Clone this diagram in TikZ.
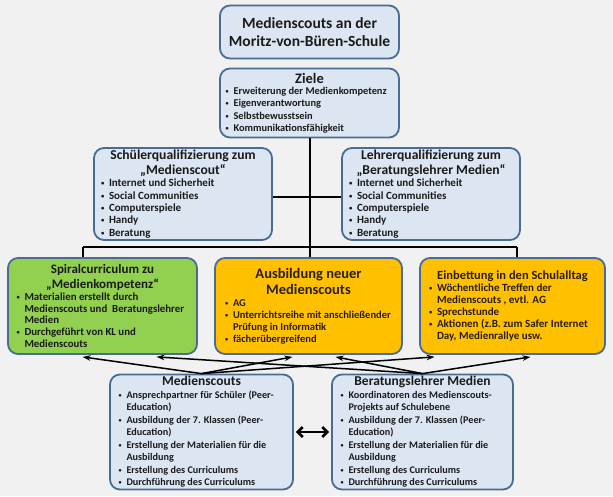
\documentclass[tikz,border=0pt]{standalone}
\usepackage{fontspec}
\setmainfont{Carlito}
\usetikzlibrary{arrows.meta,calc}
\definecolor{bgc}{HTML}{F1F1F1}
\definecolor{bluef}{HTML}{DCE6F2}
\definecolor{edgec}{HTML}{4A6B93}
\definecolor{greenf}{HTML}{92D050}
\definecolor{orangef}{HTML}{FFC000}
\definecolor{txt}{HTML}{1A1A1A}
\definecolor{txto}{HTML}{2A1E05}
\newcommand\bt[3][12.5]{{\centering\fontsize{#1}{#2}\selectfont #3\par}}
\newcommand\itmsize{\fontsize{10}{12.3}}
\newcommand\itm[1]{{\itmsize\selectfont\hangindent=8pt\hangafter=1\noindent\makebox[8pt][l]{\raisebox{1pt}{\scalebox{0.6}{\textbullet}}}#1\par}}
\newcommand\bx[2]{\begin{minipage}{#1}#2\end{minipage}}
\tikzset{
  box/.style={draw=edgec, line width=1.8pt, rounded corners=10pt, inner sep=0pt, text=txt, font=\bfseries},
  bluebox/.style={box, fill=bluef},
  greenbox/.style={box, fill=greenf},
  orangebox/.style={box, fill=orangef, text=txto},
  conn/.style={line width=2.4pt, black},
  arr/.style={line width=1.5pt, black, -{Stealth[length=8pt,width=5.5pt]}},
  darr/.style={line width=2.6pt, black, {Straight Barb[length=5pt,width=10pt]}-{Straight Barb[length=5pt,width=10pt]}}
}
\begin{document}
\begin{tikzpicture}[x=1pt,y=-1pt]
\fill[bgc] (0,0) rectangle (613,496);
\useasboundingbox (0,0) rectangle (613,496);

\node[bluebox, minimum width=179pt, minimum height=53pt] (title) at (309.5,32)
  {\bx{170pt}{{\centering\fontsize{15.5}{18.5}\selectfont Medienscouts an der\\Moritz-von-Büren-Schule\par}}};

\node[bluebox, minimum width=179pt, minimum height=69pt] (ziele) at (309.5,103)
  {\bx{168pt}{\bt[14.5]{16}{Ziele}\vspace{-1pt}
   \renewcommand\itmsize{\fontsize{10.4}{12.3}}
   \itm{Erweiterung der Medienkompetenz}
   \itm{Eigenverantwortung}
   \itm{Selbstbewusstsein}
   \itm{Kommunikationsfähigkeit}}};

\node[bluebox, minimum width=178pt, minimum height=92pt] (schueler) at (183,194)
  {\bx{164pt}{\bt[13.6]{15}{Schülerqualifizierung zum\\„Medienscout“}
   \renewcommand\itmsize{\fontsize{11}{12.4}}
   \itm{Internet und Sicherheit}
   \itm{Social Communities}
   \itm{Computerspiele}
   \itm{Handy}
   \itm{Beratung}}};

\node[bluebox, minimum width=178pt, minimum height=92pt] (lehrer) at (431,194)
  {\bx{164pt}{\bt[13.6]{15}{Lehrerqualifizierung zum\\„Beratungslehrer Medien“}
   \renewcommand\itmsize{\fontsize{11}{12.4}}
   \itm{Internet und Sicherheit}
   \itm{Social Communities}
   \itm{Computerspiele}
   \itm{Handy}
   \itm{Beratung}}};

\node[greenbox, minimum width=189pt, minimum height=96pt] (green) at (102.5,306)
  {\bx{172pt}{\bt[13]{15}{Spiralcurriculum zu\\„Medienkompetenz“}
   \renewcommand\itmsize{\fontsize{10.8}{11.8}}
   \itm{Materialien erstellt durch\\Medienscouts und \ Beratungslehrer\\Medien}
   \itm{Durchgeführt von KL und\\Medienscouts}}};

\node[orangebox, minimum width=187pt, minimum height=96pt] (middle) at (308.5,306)
  {\bx{167pt}{\bt[14.5]{16}{Ausbildung neuer\\Medienscouts}
   \renewcommand\itmsize{\fontsize{10.5}{12}}
   \itm{AG}
   \itm{Unterrichtsreihe mit anschließender\\Prüfung in Informatik}
   \itm{fächerübergreifend}}};

\node[orangebox, minimum width=185pt, minimum height=96pt] (right) at (512.5,306)
  {\bx{167pt}{\bt[12.5]{15}{Einbettung in den Schulalltag}
   \renewcommand\itmsize{\fontsize{11}{12}}
   \itm{Wöchentliche Treffen der\\Medienscouts , evtl. AG}
   \itm{Sprechstunde}
   \itm{Aktionen (z.B. zum Safer Internet\\Day, Medienrallye usw.}}};

\node[bluebox, minimum width=183pt, minimum height=115pt] (ms) at (201.5,432)
  {\bx{166pt}{\bt[13.5]{15}{Medienscouts}
   \renewcommand\itmsize{\fontsize{10.2}{12.5}}
   \itm{Ansprechpartner für Schüler (Peer-\\Education)}
   \itm{Ausbildung der 7. Klassen (Peer-\\Education)}
   \itm{Erstellung der Materialien für die\\Ausbildung}
   \itm{Erstellung des Curriculums}
   \itm{Durchführung des Curriculums}}};

\node[bluebox, minimum width=181pt, minimum height=115pt] (bl) at (422.5,432)
  {\bx{164pt}{\bt[13.5]{15}{Beratungslehrer Medien}
   \renewcommand\itmsize{\fontsize{10.2}{12.5}}
   \itm{Koordinatoren des Medienscouts-\\Projekts auf Schulebene}
   \itm{Ausbildung der 7. Klassen (Peer-\\Education)}
   \itm{Erstellung der Materialien für die\\Ausbildung}
   \itm{Erstellung des Curriculums}
   \itm{Durchführung des Curriculums}}};

% tree connectors
\coordinate (j1) at (310,197);
\coordinate (bus) at (310,247);
\coordinate (busL) at (83,247);
\coordinate (busR) at (517,247);
\draw[conn] (ziele.south -| bus) -- (bus);
\draw[conn] (schueler.east |- j1) -- (lehrer.west |- j1);
\draw[conn] (busL) -- (busR);
\draw[conn] (busL) -- (busL |- green.north);
\draw[conn] (bus) -- (bus |- middle.north);
\draw[conn] (busR) -- (busR |- right.north);

% arrows
\draw[arr] (ms.north) -- ([xshift=-20pt,yshift=-2pt]green.south);
\draw[arr] (ms.north) -- ([xshift=-16pt,yshift=-2pt]middle.south);
\draw[arr] (ms.north) -- ([xshift=-78pt,yshift=-2pt]right.south);
\draw[arr] (bl.north) -- ([xshift=54pt,yshift=-2pt]green.south);
\draw[arr] (bl.north) -- ([xshift=27pt,yshift=-2pt]middle.south);
\draw[arr] (bl.north) -- ([xshift=18pt,yshift=-2pt]right.south);
\draw[darr, shorten <=2pt, shorten >=2pt] (ms.east) -- (bl.west);
\end{tikzpicture}
\end{document}
